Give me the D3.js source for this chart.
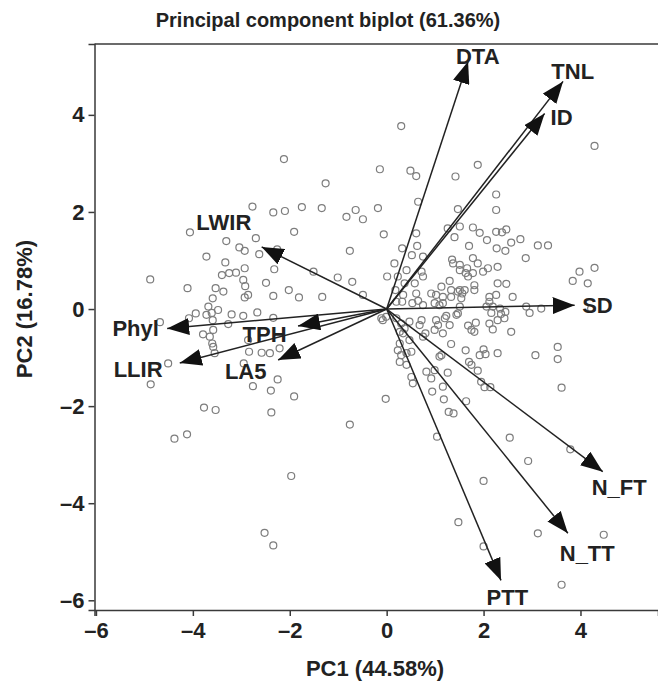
<!DOCTYPE html>
<html>
<head>
<meta charset="utf-8">
<script src="https://cdn.jsdelivr.net/npm/d3@7"></script>
<style>
  body { margin: 0; background: #fff; }
  svg text { font-family: "Liberation Sans", Arial, sans-serif; font-weight: bold; fill: #222; }
  .axis path, .axis line { stroke: #3a3a3a; stroke-width: 1.5; }
  .axis text { font-size: 22px; }
</style>
</head>
<body>
<svg id="chart"></svg>
<script>
// variable loadings (arrow tips) in PC units
const variables = ['DTA', 'TNL', 'ID', 'SD', 'N_FT', 'N_TT', 'PTT', 'LWIR', 'Phyl', 'LLIR', 'TPH', 'LA5'];
const loadPC1 = [1.68, 3.64, 3.26, 3.88, 4.46, 3.74, 2.36, -2.58, -4.53, -4.27, -1.83, -2.24];
const loadPC2 = [5.10, 4.69, 4.03, 0.08, -3.35, -4.62, -5.59, 1.28, -0.40, -1.11, -0.35, -1.05];
// where each variable name sits (PC units)
const labelPC1 = [1.88, 3.84, 3.61, 4.35, 4.80, 4.14, 2.49, -3.36, -5.18, -5.13, -2.52, -2.91];
const labelPC2 = [5.20, 4.89, 3.94, 0.08, -3.67, -5.03, -5.94, 1.79, -0.41, -1.24, -0.52, -1.28];

// individual scores
const scorePC1 = [
  -3.77, -3.53, -4.38, -4.12, -2.38, -1.91, -0.76, -0.02, -1.97, -2.52, -2.34,
  -1.26, -2.77, -2.34, -2.10, -1.75, -1.34, -4.06, -3.31, -3.04, -2.93, -2.70, -2.63, -2.26, -1.91,
  -3.72, -3.33, -2.93, -3.40, -3.25, -3.11, -2.96, -2.92, -2.49, -2.32, -1.51, -4.88, -4.11, -3.53,
  -3.37, -3.59, -2.93, -2.86, -2.34, -2.02, -1.81, -1.33, -1.01, -3.68, -3.48, -3.72, -3.61, -4.08,
  -3.94, -3.20, -2.96, -2.67, -2.34, -4.68, -3.59, -3.27, -3.58, -3.79, -3.65, -3.60, -3.58, -3.55,
  -2.86, -2.84, -2.58, -2.41, -2.21, -4.51, -4.87, -2.95, -2.25, -2.76, -2.39,
  0.30, -2.12, -0.14, 0.49, 0.61, 0.65, -0.64, -0.83, -0.49, -0.18, -0.06, -0.76, 0.61, 0.63, 0.32,
  0.52, 0.75, 0.16, 0.41, 0.72, 0.75, 0.01, 0.23, 0.37, 0.58, 0.18, 0.34, 0.61, 0.92, 1.13, 0.99,
  1.16, 0.75, 0.53, 0.20, -0.71, -0.49, -0.01, -0.08, 0.20, 0.30, 0.47, 0.72, 1.02, 1.20, 0.99, 1.16,
  0.34, 0.47, 0.75, 0.23, 0.41, 1.13, 0.27, 0.41, 0.82, 0.99, 0.51, 0.54, 0.92, 1.16, 0.94,
  4.29, 1.42, 1.88, 2.26, 2.26, 1.47, 1.26, 1.51, 1.40, 1.78, 1.92, 2.07, 2.26, 2.38, 2.47, 2.57,
  2.76, 2.27, 2.45, 1.70, 3.12, 3.33, 2.87, 1.35, 1.51, 1.66, 1.78, 1.88, 1.99, 2.09, 2.29, 1.68,
  1.81, 1.51, 1.30, 2.29, 2.47, 3.84, 3.98, 4.15, 4.29, 1.16, 1.33, 1.56, 1.51, 1.44, 2.12, 2.26,
  2.06, 2.19, 2.34, 2.45, 2.60, 2.88, 2.95, 3.19, 2.12, 2.29, 2.43, 4.22,
  1.30, 1.68, 1.81, 2.19, 2.57, 1.33, 1.63, 1.09, 1.26, 1.70, 1.75, 1.88, 1.92, 2.04, 2.29, 2.00,
  1.95, 2.02, 2.14, 1.18, 1.64, 1.28, 1.38, 3.07, 3.53, 3.53, 3.61, 1.04, 2.54, 3.79, 2.92, 2.00,
  1.48, 3.12, 4.48, 2.00, 3.61,
  2.12, 2.16, 2.36,
  0.32, 0.65, 1.02, 1.09, 1.33, 1.47, 1.54, 1.37, 1.51, 1.63, 1.78, 1.61, 1.81, -0.11, 0.27, 0.37,
  0.68, 0.80, 1.06, 1.23, 1.47, 1.75, 1.84, 0.27, 0.30, 0.51
];
const scorePC2 = [
  -2.03, -2.08, -2.67, -2.58, -2.13, -1.80, -2.38, -1.85, -3.44, -4.61, -4.87,
  2.59, 2.11, 1.99, 2.02, 2.10, 2.08, 1.58, 1.40, 1.27, 1.20, 1.46, 1.13, 1.23, 1.59,
  1.08, 0.96, 0.84, 0.70, 0.74, 0.75, 0.60, 0.47, 0.54, 0.82, 0.77, 0.61, 0.43, 0.43,
  0.36, 0.22, 0.24, 0.29, 0.27, 0.39, 0.24, 0.25, 0.65, 0.05, -0.02, -0.12, -0.08, -0.19,
  -0.09, -0.11, -0.14, -0.07, -0.18, -0.27, -0.23, -0.31, -0.43, -0.52, -0.57, -0.71, -0.78, -0.91,
  -0.64, -0.88, -0.90, -0.91, -0.81, -1.12, -1.55, -1.12, -1.45, -1.59, -1.68,
  3.77, 3.09, 2.88, 2.85, 2.74, 2.21, 2.04, 1.90, 1.85, 2.08, 1.54, 1.20, 1.56, 1.30, 1.25,
  1.11, 1.08, 0.94, 0.80, 0.77, 0.67, 0.67, 0.67, 0.53, 0.53, 0.39, 0.29, 0.32, 0.32, 0.46, 0.12,
  0.12, 0.08, 0.12, 0.15, 0.56, 0.29, -0.16, -0.23, -0.19, -0.30, -0.26, -0.23, -0.23, -0.19, -0.43, -0.50,
  -0.50, -0.64, -0.57, -0.85, -0.91, -0.95, -1.09, -1.15, -1.29, -1.26, -1.40, -1.53, -1.43, -1.60, -1.70,
  3.36, 2.73, 2.97, 2.36, 2.04, 2.06, 1.66, 1.70, 1.48, 1.68, 1.57, 1.42, 1.59, 1.58, 1.64, 1.37,
  1.44, 1.25, 1.20, 1.30, 1.31, 1.31, 1.05, 1.02, 0.91, 0.84, 1.05, 0.94, 0.77, 0.84, 0.87, 0.67,
  0.49, 0.39, 0.58, 0.53, 0.52, 0.58, 0.77, 0.53, 0.85, 0.25, 0.25, 0.32, 0.05, -0.12, 0.25, 0.29,
  0.05, 0.05, 0.01, -0.06, 0.25, 0.05, -0.08, 0.01, -0.30, -0.23, -0.19, 0.01,
  -0.33, -0.34, -0.47, -0.42, -0.47, -0.72, -0.85, -0.98, -1.31, -1.09, -1.15, -1.27, -0.95, -0.93, -0.91, -0.83,
  -1.50, -1.61, -1.61, -1.86, -1.90, -2.12, -2.15, -0.95, -0.78, -1.03, -1.62, -2.63, -2.65, -2.89, -3.13, -3.54,
  -4.39, -4.62, -4.65, -4.89, -5.68,
  0.15, -0.08, -0.10,
  0.15, 0.17, 0.29, 0.08, 0.39, 0.36, 0.22, 0.94, 0.80, 0.74, 0.74, 0.39, 0.39, -0.19, -0.47, -0.40,
  -0.33, -0.50, -0.33, -0.14, -0.09, -0.43, -0.28, -0.71, -0.95, -0.88
];

const xTicks = [-6, -4, -2, 0, 2, 4];
const yTicks = [-6, -4, -2, 0, 2, 4];
const title = 'Principal component biplot (61.36%)';
const xTitle = 'PC1 (44.58%)';
const yTitle = 'PC2 (16.78%)';

const width = 658, height = 684;
const svg = d3.select('#chart').attr('width', width).attr('height', height);

const x = d3.scaleLinear().domain([-6.03, 5.6]).range([94.5, 658]);
const y = d3.scaleLinear().domain([-6.2, 5.46]).range([610, 44]);

// frame: top rule
svg.append('line')
  .attr('x1', x.range()[0]).attr('x2', x.range()[1])
  .attr('y1', y.range()[1]).attr('y2', y.range()[1])
  .attr('stroke', '#3a3a3a').attr('stroke-width', 1.5);

const minus = d => d < 0 ? '\u2013' + Math.abs(d) : d;
const xAxis = d3.axisBottom(x).tickValues(xTicks).tickSizeOuter(0).tickSize(6).tickPadding(6).tickFormat(minus);
const yAxis = d3.axisLeft(y).tickValues(yTicks).tickSizeOuter(0).tickSize(6).tickPadding(4).tickFormat(minus);

svg.append('g').attr('class', 'axis')
  .attr('transform', `translate(0,${y.range()[0]})`).call(xAxis)
  .call(g => g.selectAll('text').attr('fill', '#222'));
svg.append('g').attr('class', 'axis')
  .attr('transform', `translate(${x.range()[0]},0)`).call(yAxis)
  .call(g => g.selectAll('text').attr('fill', '#222'));

svg.append('text').attr('x', 328).attr('y', 27).attr('text-anchor', 'middle')
  .style('font-size', '20px').text(title);
svg.append('text').attr('x', 375).attr('y', 676).attr('text-anchor', 'middle')
  .style('font-size', '22px').text(xTitle);
svg.append('text').attr('transform', `translate(32,${y(0)}) rotate(-90)`).attr('text-anchor', 'middle')
  .style('font-size', '22px').text(yTitle);

// scores
const scores = scorePC1.map((d, i) => ({ pc1: d, pc2: scorePC2[i] }));
svg.append('g').selectAll('circle').data(scores).join('circle')
  .attr('cx', d => x(d.pc1)).attr('cy', d => y(d.pc2)).attr('r', 3.5)
  .attr('fill', 'none').attr('stroke', '#7d7d7d').attr('stroke-width', 1.2);

// arrowheads
svg.append('defs').append('marker')
  .attr('id', 'head').attr('markerUnits', 'userSpaceOnUse')
  .attr('viewBox', '0 0 22 17').attr('refX', 22).attr('refY', 8.5)
  .attr('markerWidth', 22).attr('markerHeight', 17).attr('orient', 'auto')
  .append('path').attr('d', 'M0,0 L22,8.5 L0,17 Z').attr('fill', '#111');

const loads = variables.map((v, i) => ({ name: v, pc1: loadPC1[i], pc2: loadPC2[i], lx: labelPC1[i], ly: labelPC2[i] }));
svg.append('g').selectAll('line').data(loads).join('line')
  .attr('x1', x(0)).attr('y1', y(0))
  .attr('x2', d => x(d.pc1)).attr('y2', d => y(d.pc2))
  .attr('stroke', '#222').attr('stroke-width', 1.5)
  .attr('marker-end', 'url(#head)');

svg.append('g').selectAll('text').data(loads).join('text')
  .attr('x', d => x(d.lx)).attr('y', d => y(d.ly))
  .attr('text-anchor', 'middle').attr('dominant-baseline', 'central')
  .style('font-size', '22px').text(d => d.name);
</script>
</body>
</html>
